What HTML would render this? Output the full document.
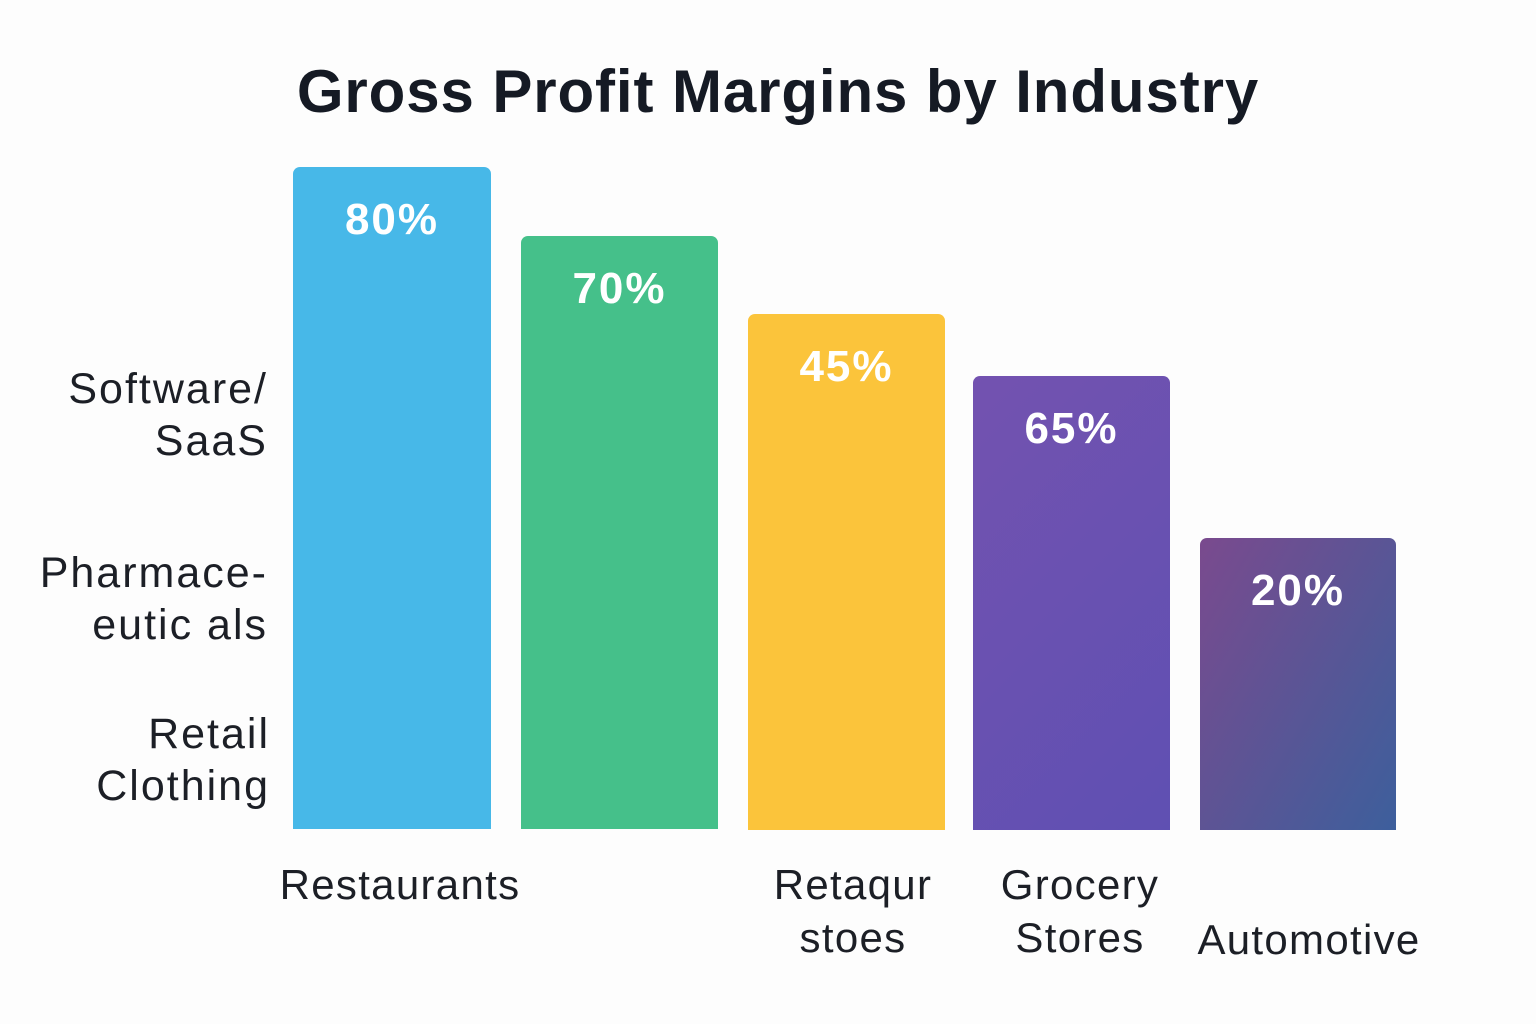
<!DOCTYPE html>
<html><head><meta charset="utf-8"><style>
body{margin:0;width:1536px;height:1024px;background:#fdfdfd;position:relative;overflow:hidden;font-family:"Liberation Sans","DejaVu Sans",sans-serif;color:#1c1f26}
.t{position:absolute;white-space:nowrap;line-height:1}
.title{left:0;width:1556px;text-align:center;top:62px;font-size:60px;font-weight:bold;color:#151a24;letter-spacing:0.9px}
.bar{position:absolute;border-radius:7px 7px 0 0}
.v{position:absolute;width:100%;text-align:center;color:#fff;font-weight:bold;font-size:44px;line-height:1;letter-spacing:2px}
.l{font-size:43px;text-align:right;width:300px;letter-spacing:2px}
.b{font-size:42px;text-align:center;width:300px;letter-spacing:1.3px}
</style></head><body>
<div class="t title">Gross Profit Margins by Industry</div>

<div class="bar" style="left:293px;top:167px;width:198px;height:662px;background:#47b8e8"><div class="v" style="top:31px">80%</div></div>
<div class="bar" style="left:521px;top:236px;width:197px;height:593px;background:#45c08a"><div class="v" style="top:31px">70%</div></div>
<div class="bar" style="left:748px;top:314px;width:197px;height:516px;background:#fbc43b"><div class="v" style="top:31px">45%</div></div>
<div class="bar" style="left:973px;top:376px;width:197px;height:454px;background:linear-gradient(135deg,#7352b0,#5f50b2)"><div class="v" style="top:31px">65%</div></div>
<div class="bar" style="left:1200px;top:538px;width:196px;height:292px;background:linear-gradient(120deg,#7a4a8e,#3d5f9c)"><div class="v" style="top:31px">20%</div></div>

<div class="t l" style="left:-32px;top:368px">Software/</div>
<div class="t l" style="left:-32px;top:420px">SaaS</div>
<div class="t l" style="left:-32px;top:552px">Pharmace-</div>
<div class="t l" style="left:-32px;top:604px">eutic als</div>
<div class="t l" style="left:-30px;top:713px">Retail</div>
<div class="t l" style="left:-30px;top:765px">Clothing</div>

<div class="t b" style="left:250px;top:864px">Restaurants</div>
<div class="t b" style="left:703px;top:864px">Retaqur</div>
<div class="t b" style="left:703px;top:917px">stoes</div>
<div class="t b" style="left:930px;top:864px">Grocery</div>
<div class="t b" style="left:930px;top:917px">Stores</div>
<div class="t b" style="left:1159px;top:919px">Automotive</div>
</body></html>
